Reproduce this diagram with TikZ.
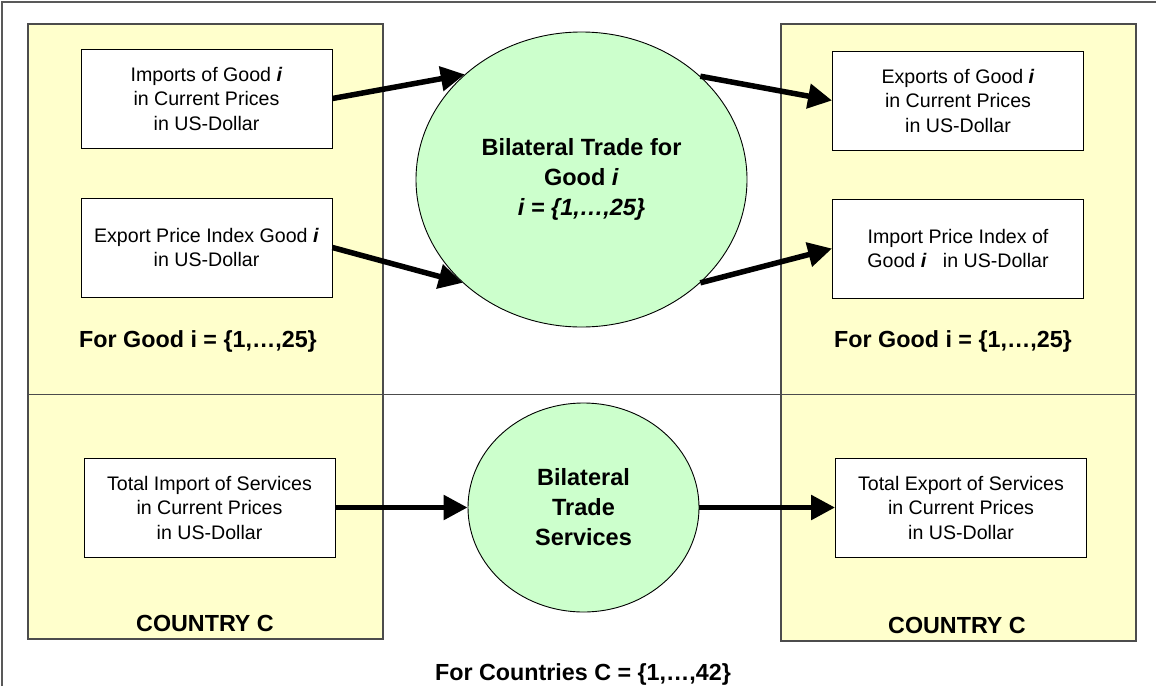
\documentclass[tikz,border=0pt]{standalone}
\usepackage{fontspec}
\setmainfont{Liberation Sans}
\usetikzlibrary{arrows.meta,shapes.geometric}
\definecolor{panelfill}{HTML}{FFFFCC}
\definecolor{ovalfill}{HTML}{CCFFCC}
\newcommand{\gi}{\textbf{\textit{i}}}
\begin{document}
\begin{tikzpicture}[x=1pt,y=-1pt,
  panel/.style={draw=black!70, line width=1.1pt, fill=panelfill, inner sep=0pt},
  infobox/.style={draw=black, line width=0.9pt, fill=white, minimum width=251pt, minimum height=99pt, align=center, font=\fontsize{19.6}{24.5}\selectfont, inner sep=0pt},
  oval/.style={ellipse, draw=black, line width=0.9pt, fill=ovalfill, align=center, font=\fontsize{23.5}{30}\selectfont\bfseries, inner sep=0pt},
  flow/.style={-{Triangle[length=24pt,width=24pt]}, line width=5.5pt},
  boldlabel/.style={font=\fontsize{23.3}{28}\selectfont\bfseries, anchor=base, inner sep=0pt}]

\useasboundingbox (0,0) rectangle (1156,686);
\fill[white] (0,0) rectangle (1156,686);
\draw[black!65, line width=1.5pt] (2,686) -- (2,2) -- (1156,2);

% country panels
\node[panel, minimum width=355pt, minimum height=615pt] (lp) at (205.5,331.5) {};
\node[panel, minimum width=355pt, minimum height=617pt] (rp) at (958.5,332.5) {};
\draw[black!70, line width=1pt] (28,394) -- (1136,394);

% goods boxes
\node[infobox] (b1) at (206.5,98.5) {Imports of Good \gi\\in Current Prices\\in US-Dollar};
\node[infobox] (b2) at (206.5,247.5) {Export Price Index Good \gi\\in US-Dollar};
\node[infobox] (b3) at (958,100.5) {Exports of Good \gi\\in Current Prices\\in US-Dollar};
\node[infobox] (b4) at (958,248.5) {Import Price Index of\\Good \gi~~ in US-Dollar};

% services boxes
\node[infobox] (b5) at (209.5,507.5) {Total Import of Services\\in Current Prices\\in US-Dollar};
\node[infobox] (b6) at (961,507.5) {Total Export of Services\\in Current Prices\\in US-Dollar};

% ovals
\node[oval, minimum width=331pt, minimum height=295pt] (c1) at (581.5,179.5) {Bilateral Trade for\\Good \textit{i}\\\textit{i = \{1,…,25\}}};
\node[oval, minimum width=231pt, minimum height=209pt] (c2) at (583.5,507.5) {Bilateral\\Trade\\Services};

% arrows
\draw[flow] (b1.east) -- (c1.138);
\draw[flow] (b2.east) -- (c1.221);
\draw[flow] (c1.41.5) -- (b3.west);
\draw[flow] (c1.319) -- (b4.west);
\draw[flow] (b5.east) -- (c2.west);
\draw[flow] (c2.east) -- (b6.west);

% labels
\node[boldlabel] (l1) at (198,347) {For Good i = \{1,…,25\}};
\node[boldlabel] (l2) at (953,347) {For Good i = \{1,…,25\}};
\node[boldlabel] (l3) at (205,631.5) {COUNTRY C};
\node[boldlabel] (l4) at (957,633.5) {COUNTRY C};
\node[boldlabel] (l5) at (583,680) {For Countries C = \{1,…,42\}};
\end{tikzpicture}
\end{document}
